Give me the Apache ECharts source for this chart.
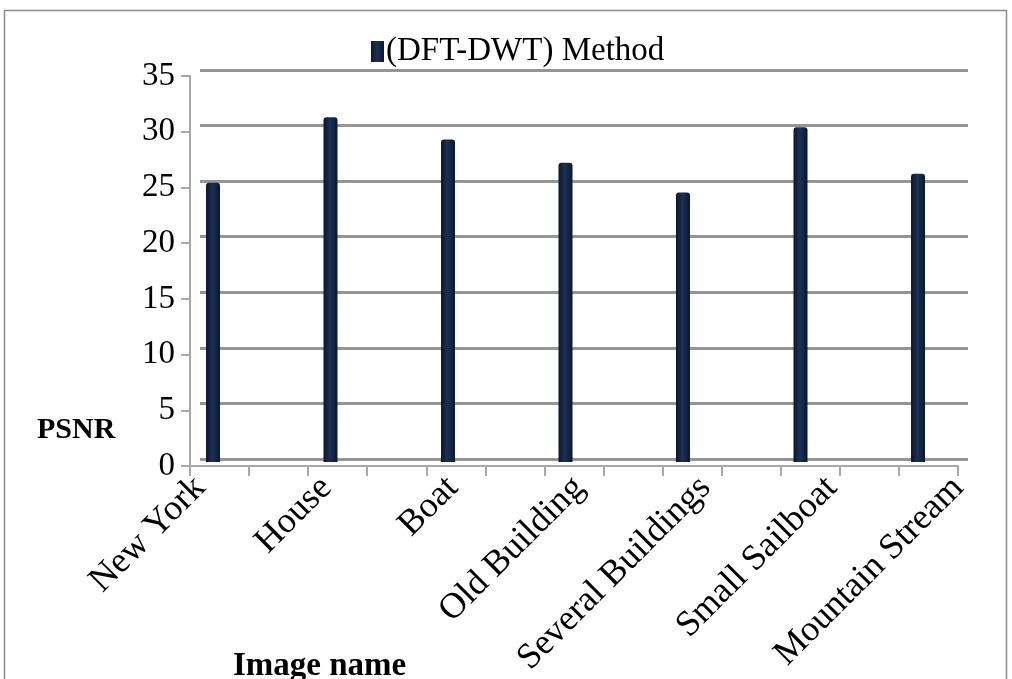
<!DOCTYPE html>
<html><head><meta charset="utf-8">
<script src="https://cdn.jsdelivr.net/npm/echarts@6/dist/echarts.min.js"></script>
<style>html,body{margin:0;padding:0;background:#fff}#c{width:1012px;height:679px}</style>
</head><body><div id="c"></div>
<script>
const categories = ['New York','House','Boat','Old Building','Several Buildings','Small Sailboat','Mountain Stream'];
const psnr = [25.2, 31.1, 29.1, 27.0, 24.3, 30.2, 26.0];
const seriesName = '(DFT-DWT) Method';
const yMin = 0, yMax = 35, yStep = 5;
const frontTickCount = 13;

const font = 'Liberation Serif';
const gridColor = '#959595';
const axisColor = '#a8a8a8';
const chart = echarts.init(document.getElementById('c'), null, {renderer:'canvas'});
chart.setOption({
  animation:false,
  backgroundColor:'#fff',
  graphic:[{type:'rect', shape:{x:4.5,y:10.5,width:1002,height:680}, style:{fill:'none', stroke:'#8a8a8a', lineWidth:1.5}, silent:true, z:-10}],
  title:[
    {text:'PSNR', left:32, top:410, textStyle:{fontFamily:font, fontWeight:'bold', fontSize:30, color:'#000'}},
    {text:'Image name', left:228, top:645, textStyle:{fontFamily:font, fontWeight:'bold', fontSize:33, color:'#000'}}
  ],
  legend:{
    data:[seriesName], left:366, top:30, itemWidth:13, itemHeight:21, itemGap:4,
    icon:'rect',
    textStyle:{fontFamily:font, fontSize:33, color:'#000', padding:[0,0,0,-3]}
  },
  grid:[
    {left:213, right:94, top:74, bottom:217},
    {left:200, right:44, top:70, bottom:220},
    {left:190, right:54, top:76, bottom:213},
    {left:200, right:54, top:74, bottom:217}
  ],
  xAxis:[
    {gridIndex:0, type:'category', data:categories, boundaryGap:false, show:false},
    {gridIndex:1, type:'value', min:0, max:1, show:false},
    {gridIndex:2, type:'value', min:0, max:frontTickCount, interval:1,
     axisLine:{lineStyle:{color:axisColor, width:2}},
     axisTick:{length:10, lineStyle:{color:axisColor, width:2}},
     axisLabel:{show:false}, splitLine:{show:false}},
    {gridIndex:3, type:'category', data:categories, boundaryGap:false,
     axisLine:{show:false}, axisTick:{show:false},
     axisLabel:{rotate:45, margin:36, fontFamily:font, fontSize:36, color:'#000', interval:0}}
  ],
  yAxis:[
    {gridIndex:0, type:'value', min:yMin, max:yMax, interval:yStep, show:false},
    {gridIndex:1, type:'value', min:yMin, max:yMax, interval:yStep,
     axisLine:{show:false}, axisTick:{show:false}, axisLabel:{show:false},
     splitLine:{show:true, lineStyle:{color:gridColor, width:3}}},
    {gridIndex:2, type:'value', min:yMin, max:yMax, interval:yStep,
     axisLine:{show:true, lineStyle:{color:axisColor, width:2}},
     axisTick:{show:true, length:9, lineStyle:{color:axisColor, width:2}},
     axisLabel:{margin:15, fontFamily:font, fontSize:33, color:'#000'},
     splitLine:{show:false}},
    {gridIndex:3, type:'value', min:yMin, max:yMax, show:false}
  ],
  series:[{
    name:seriesName, type:'bar', xAxisIndex:0, yAxisIndex:0, data:psnr, barWidth:14, z:5,
    itemStyle:{color:new echarts.graphic.LinearGradient(0,0,1,0,[
      {offset:0,color:'#0a182c'},{offset:0.45,color:'#1a3157'},{offset:1,color:'#0a182c'}]),
      borderRadius:[3,3,0,0]}
  }],
  color:['#0f2341']
});
</script></body></html>
